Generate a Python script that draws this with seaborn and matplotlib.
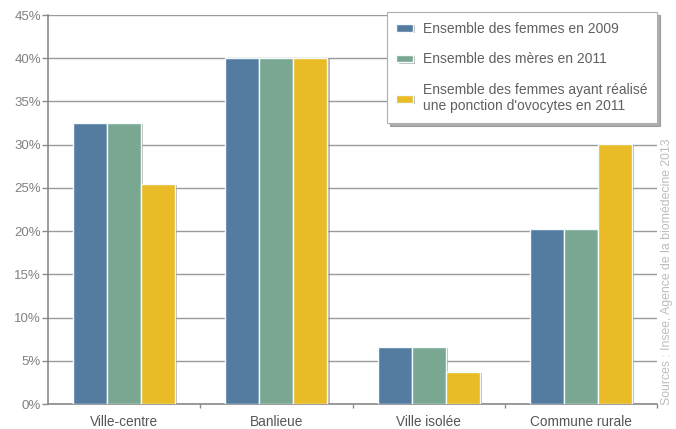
import matplotlib
matplotlib.use("Agg")
import matplotlib.pyplot as plt
import matplotlib.patheffects as pe
from matplotlib.ticker import FuncFormatter, FixedLocator
import seaborn as sns
import pandas as pd

categories = ["Ville-centre", "Banlieue", "Ville isolée", "Commune rurale"]
series = ["Ensemble des femmes en 2009",
          "Ensemble des mères en 2011",
          "Ensemble des femmes ayant réalisé\nune ponction d'ovocytes en 2011"]
femmes_2009 = [32.5, 40.0, 6.6, 20.3]
meres_2011 = [32.5, 40.0, 6.6, 20.3]
ponction_2011 = [25.5, 40.0, 3.7, 30.1]
colors = ["#547ca1", "#79a792", "#e9bb26"]
source = "Sources : Insee, Agence de la biomédecine 2013"

rows = []
for name, vals in zip(series, [femmes_2009, meres_2011, ponction_2011]):
    for c, v in zip(categories, vals):
        rows.append({"zone": c, "serie": name, "pct": v})
df = pd.DataFrame(rows)

sns.set_theme(style="white")
plt.rcParams["font.family"] = ["Liberation Sans", "DejaVu Sans"]

fig = plt.figure(figsize=(6.76, 4.29), dpi=100)
ax = fig.add_axes([0.071, 0.058, 0.901, 0.907])

sns.barplot(data=df, x="zone", y="pct", hue="serie", order=categories,
            hue_order=series, palette=colors, width=0.67, saturation=1,
            edgecolor="#f4fbff", linewidth=1.0, ax=ax, zorder=3)

shadow = [pe.SimplePatchShadow(offset=(1.6, -0.8), shadow_rgbFace="#888888", alpha=0.6),
          pe.Normal()]
for p in ax.patches:
    p.set_path_effects(shadow)

ax.set_xlim(-0.5, 3.5)
ax.set_ylim(0, 45)
ax.yaxis.set_major_locator(FixedLocator(range(0, 46, 5)))
ax.yaxis.set_major_formatter(FuncFormatter(lambda v, _: f"{int(v)}%"))
ax.yaxis.grid(True, color="#9a9a9a", linewidth=1.0, zorder=0)
ax.set_axisbelow(True)
ax.set_xlabel("")
ax.set_ylabel("")

for side in ["top", "right"]:
    ax.spines[side].set_visible(False)
for side in ["left", "bottom"]:
    ax.spines[side].set_color("#8a8a8a")
    ax.spines[side].set_linewidth(1.2)

ax.tick_params(axis="y", which="major", left=True, length=4, width=1,
               color="#8a8a8a", labelcolor="#808080", labelsize=9.5, pad=1)
ax.tick_params(axis="x", which="major", bottom=False, labelcolor="#555555",
               labelsize=9.8, pad=1.5)
ax.set_xticks(range(len(categories)))
ax.set_xticks([0.5, 1.5, 2.5, 3.5], minor=True)
ax.tick_params(axis="x", which="minor", bottom=True, length=3, width=1,
               color="#8a8a8a", direction="out")

leg = ax.legend(loc="upper right", bbox_to_anchor=(0.972, 0.972),
                bbox_transform=fig.transFigure, frameon=True,
                fancybox=False, shadow={"color": "#777777", "alpha": 0.6},
                fontsize=10, labelcolor="#606060", handlelength=1.2,
                handleheight=0.5, handletextpad=0.7, labelspacing=1.2,
                borderpad=0.7, borderaxespad=0.0)
leg.get_frame().set_edgecolor("#b0b0b0")
leg.get_frame().set_linewidth(0.8)
leg.set_zorder(5)

fig.text(0.987, 0.055, source, rotation=90, color="#bdbdbd", fontsize=8.8,
         ha="center", va="bottom")

fig.savefig("out.png", dpi=100, facecolor="white")
